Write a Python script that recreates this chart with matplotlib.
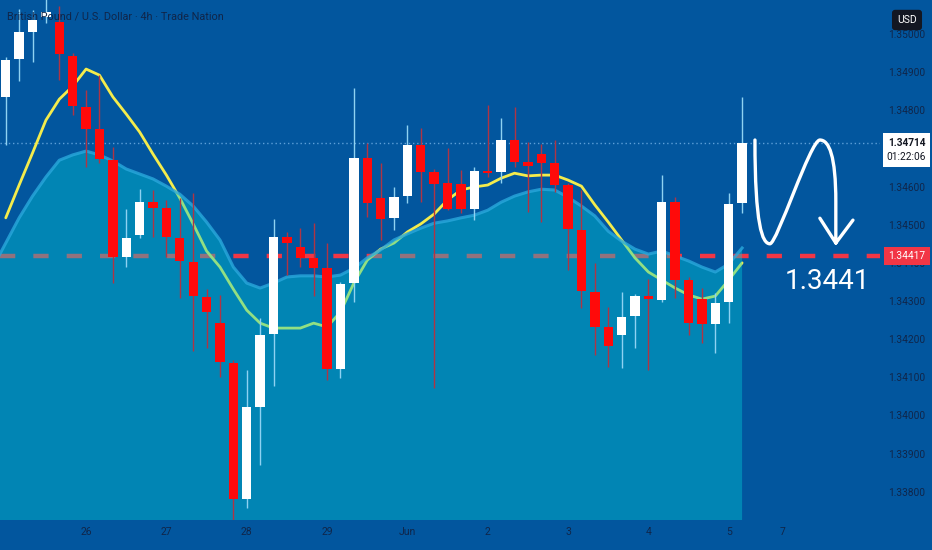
import numpy as np
import matplotlib
matplotlib.use("Agg")
import matplotlib.pyplot as plt
from matplotlib.path import Path
from matplotlib.patches import PathPatch, Rectangle
from matplotlib.transforms import blended_transform_factory

# GBP/USD 4h candles
opens = [1.34835, 1.34934, 1.35005, 1.35045, 1.35031, 1.34942, 1.34808, 1.34751,
         1.34669, 1.34415, 1.34473, 1.34559, 1.34544, 1.34465, 1.34402, 1.34310,
         1.34242, 1.34138, 1.33781, 1.34022, 1.34214, 1.34468, 1.34442, 1.34413,
         1.34386, 1.34122, 1.34347, 1.34675, 1.34570, 1.34517, 1.34575, 1.34709,
         1.34638, 1.34610, 1.34607, 1.34541, 1.34641, 1.34638, 1.34722, 1.34664,
         1.34685, 1.34662, 1.34604, 1.34486, 1.34324, 1.34232, 1.34211, 1.34261,
         1.34313, 1.34303, 1.34559, 1.34355, 1.34305, 1.34240, 1.34297, 1.34557]
highs = [1.34939, 1.35065, 1.35062, 1.35110, 1.35073, 1.34950, 1.34853, 1.34892,
         1.34704, 1.34541, 1.34593, 1.34591, 1.34565, 1.34570, 1.34583, 1.34331,
         1.34316, 1.34145, 1.34119, 1.34255, 1.34515, 1.34481, 1.34491, 1.34504,
         1.34452, 1.34350, 1.34858, 1.34714, 1.34662, 1.34599, 1.34761, 1.34753,
         1.34645, 1.34701, 1.34643, 1.34651, 1.34814, 1.34780, 1.34808, 1.34717,
         1.34711, 1.34722, 1.34609, 1.34591, 1.34400, 1.34284, 1.34324, 1.34318,
         1.34358, 1.34630, 1.34572, 1.34363, 1.34334, 1.34321, 1.34583, 1.34835]
lows = [1.34709, 1.34876, 1.34926, 1.35030, 1.34879, 1.34787, 1.34651, 1.34662,
        1.34347, 1.34389, 1.34465, 1.34468, 1.34415, 1.34308, 1.34169, 1.34177,
        1.34101, 1.33726, 1.33758, 1.33870, 1.34077, 1.34368, 1.34389, 1.34313,
        1.34093, 1.34098, 1.34297, 1.34520, 1.34460, 1.34486, 1.34557, 1.34560,
        1.34072, 1.34538, 1.34530, 1.34512, 1.34625, 1.34609, 1.34651, 1.34533,
        1.34507, 1.34586, 1.34381, 1.34282, 1.34159, 1.34127, 1.34124, 1.34177,
        1.34119, 1.34297, 1.34308, 1.34211, 1.34190, 1.34164, 1.34242, 1.34530]
closes = [1.34931, 1.35005, 1.35036, 1.35058, 1.34947, 1.34811, 1.34751, 1.34672,
          1.34415, 1.34465, 1.34559, 1.34544, 1.34468, 1.34405, 1.34313, 1.34271,
          1.34140, 1.33781, 1.34022, 1.34211, 1.34468, 1.34452, 1.34413, 1.34386,
          1.34122, 1.34345, 1.34675, 1.34557, 1.34515, 1.34572, 1.34709, 1.34638,
          1.34607, 1.34541, 1.34541, 1.34641, 1.34636, 1.34722, 1.34664, 1.34654,
          1.34662, 1.34604, 1.34489, 1.34326, 1.34232, 1.34182, 1.34258, 1.34313,
          1.34305, 1.34559, 1.34355, 1.34242, 1.34240, 1.34295, 1.34554, 1.34714]

# fast moving average (yellow line)
ma_fast = [1.34518, 1.34604, 1.34688, 1.34774, 1.34829, 1.34863, 1.34908, 1.34892,
           1.34835, 1.34790, 1.34743, 1.34685, 1.34630, 1.34570, 1.34502, 1.34431,
           1.34389, 1.34331, 1.34276, 1.34242, 1.34229, 1.34229, 1.34229, 1.34242,
           1.34232, 1.34271, 1.34347, 1.34407, 1.34436, 1.34452, 1.34481, 1.34502,
           1.34528, 1.34565, 1.34591, 1.34599, 1.34604, 1.34622, 1.34635, 1.34628,
           1.34630, 1.34630, 1.34617, 1.34601, 1.34552, 1.34507, 1.34460, 1.34413,
           1.34376, 1.34355, 1.34334, 1.34316, 1.34305, 1.34313, 1.34355, 1.34400]
# slow moving average (shaded area)
ma_slow = [1.34452, 1.34518, 1.34575, 1.34625, 1.34669, 1.34683, 1.34693, 1.34683,
           1.34667, 1.34646, 1.34633, 1.34620, 1.34601, 1.34580, 1.34549, 1.34507,
           1.34460, 1.34389, 1.34347, 1.34334, 1.34347, 1.34363, 1.34366, 1.34366,
           1.34363, 1.34368, 1.34386, 1.34413, 1.34434, 1.34460, 1.34476, 1.34491,
           1.34504, 1.34510, 1.34518, 1.34525, 1.34538, 1.34559, 1.34575, 1.34586,
           1.34593, 1.34591, 1.34572, 1.34549, 1.34523, 1.34483, 1.34457, 1.34436,
           1.34423, 1.34431, 1.34418, 1.34405, 1.34389, 1.34376, 1.34397, 1.34439]

tick_pos = [6, 12, 18, 24, 30, 36, 42, 48, 54, 58]
tick_labels = ["26", "27", "28", "29", "Jun", "2", "3", "4", "5", "7"]

last_price = 1.34714
level = 1.34417
target_text = "1.3441"
countdown = "01:22:06"
title = "British Pound / U.S. Dollar \u00b7 4h \u00b7 Trade Nation"

BG = "#02569e"
NAVY = "#10264a"
plt.rcParams["font.family"] = ["Roboto", "DejaVu Sans"]
plt.rcParams["lines.scale_dashes"] = False

W, H = 932, 550
fig = plt.figure(figsize=(W / 100, H / 100), dpi=100, facecolor=BG)
ax = fig.add_axes([0, 30 / H, 880 / W, 520 / H])
ax.set_facecolor(BG)
for s in ax.spines.values():
    s.set_visible(False)

x = np.arange(len(closes))
o = np.array(opens); c = np.array(closes)
hi = np.array(highs); lo = np.array(lows)
up = c >= o

# reference lines (under the shaded area)
ax.axhline(last_price, color="#5d9fd8", lw=1, ls=(0, (1, 2)), zorder=1)
ax.axhline(level, color="#f23645", lw=3.2, ls=(0, (11, 13)), zorder=1)

# fast MA, drawn below the translucent area so it turns green inside it
ax.plot(x, ma_fast, color="#f4ec4c", lw=2.0, zorder=2, solid_capstyle="round")

# slow MA area, extended to the left edge of the chart
xa = np.concatenate([[-0.5], x])
ya = np.concatenate([[ma_slow[0] - 0.5 * (ma_slow[1] - ma_slow[0])], ma_slow])
ax.fill_between(xa, ya, 1.30, color="#00cdd6", alpha=0.4, lw=0, zorder=3)
ax.plot(xa, ya, color="#2aa8dc", lw=2.2, alpha=0.8, zorder=3.5)

# candles
wick_col = np.where(up, "#8fd2f2", "#b03444")
ax.vlines(x, lo, hi, colors=wick_col, lw=1, zorder=4)
body_lo = np.minimum(o, c)
body_h = np.maximum(np.abs(c - o), 0.00006)
ax.bar(x, body_h, bottom=body_lo, width=0.7,
       color=np.where(up, "#ffffff", "#ff0a0a"), lw=0, zorder=5)

# projection arrow
verts = [(55.96, 1.34722),
         (55.96, 1.34500), (56.50, 1.34450), (57.08, 1.34450),
         (57.60, 1.34450), (60.10, 1.34722), (60.81, 1.34722),
         (61.50, 1.34722), (62.00, 1.34680), (62.00, 1.34560),
         (62.00, 1.34452),
         (60.81, 1.34517), (62.00, 1.34452), (63.28, 1.34512)]
codes = [Path.MOVETO,
         Path.CURVE4, Path.CURVE4, Path.CURVE4,
         Path.CURVE4, Path.CURVE4, Path.CURVE4,
         Path.CURVE4, Path.CURVE4, Path.CURVE4,
         Path.LINETO,
         Path.MOVETO, Path.LINETO, Path.LINETO]
ax.add_patch(PathPatch(Path(verts, codes), fc="none", ec="white", lw=2.4,
                       capstyle="round", joinstyle="round", zorder=6))
ax.text(61.35, 1.34352, target_text, color="white", fontsize=20,
        ha="center", va="center", zorder=6)

ax.set_xlim(-0.43, 65.3)
ax.set_ylim(1.33726, 1.35089)

# axes ticks
ax.yaxis.tick_right()
ax.set_yticks(np.arange(1.338, 1.3505, 0.001))
ax.yaxis.set_major_formatter(plt.FuncFormatter(lambda v, p: f"{v:.5f}"))
ax.tick_params(axis="y", length=0, pad=6, labelsize=7.3, labelcolor=NAVY)
ax.set_xticks(tick_pos)
ax.set_xticklabels(tick_labels)
ax.tick_params(axis="x", length=0, pad=5, labelsize=7.5, labelcolor=NAVY)

# price labels on the right scale
tr = blended_transform_factory(ax.transAxes, ax.transData)
px = (ax.get_ylim()[1] - ax.get_ylim()[0]) / 520  # price per pixel
ax.add_patch(Rectangle((1.0034, last_price - 24 * px), 47 / 880, 34 * px,
                       transform=tr, fc="white", ec="none", clip_on=False,
                       zorder=9))
ax.text(1.0034 + 23.5 / 880, last_price, f"{last_price:.5f}", transform=tr,
        ha="center", va="center", fontsize=7.3, weight="bold",
        color="#131722", clip_on=False, zorder=10)
ax.text(1.0034 + 23.5 / 880, last_price - 14 * px, countdown, transform=tr,
        ha="center", va="center", fontsize=7.3, color="#131722",
        clip_on=False, zorder=10)
ax.add_patch(Rectangle((1.0045, level - 9 * px), 46 / 880, 18 * px,
                       transform=tr, fc="#f23645", ec="none", clip_on=False,
                       zorder=9))
ax.text(1.0045 + 23 / 880, level, f"{level:.5f}", transform=tr, ha="center",
        va="center", fontsize=7.3, color="white", clip_on=False, zorder=10)

fig.text(907 / W, 1 - 20 / H, "USD", ha="center", va="center", fontsize=7.5,
         color="white", bbox=dict(boxstyle="round,pad=0.5,rounding_size=0.3",
                                  fc="#131722", ec="none"))
fig.text(7 / W, 1 - 17 / H, title, ha="left", va="center", fontsize=7.8,
         color=NAVY)

fig.savefig("out.png", dpi=100, facecolor=BG)
